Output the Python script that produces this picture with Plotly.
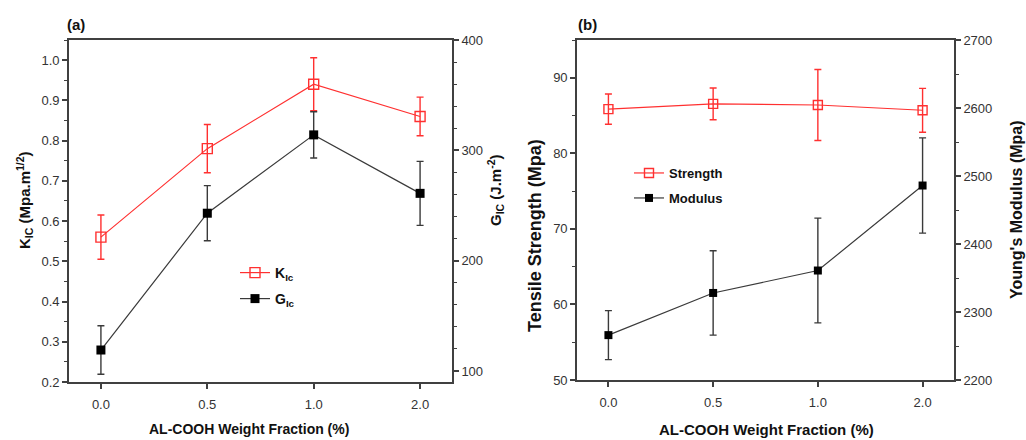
import plotly.graph_objects as go

# ---------------- data ----------------
x_labels = ["0.0", "0.5", "1.0", "2.0"]
x_pos = [0, 1, 2, 3]

kic = [0.56, 0.78, 0.94, 0.86]
kic_err = [0.055, 0.06, 0.066, 0.048]
gic = [119, 243, 314, 261]
gic_err = [22, 25, 21, 29]

strength = [85.85, 86.55, 86.4, 85.7]
strength_err = [2.0, 2.1, 4.7, 2.9]
modulus = [2266, 2328, 2361, 2486]
modulus_err = [36, 62, 77, 70]

# ---------------- style ----------------
W, H = 1026, 440
RED = "#ff3030"
BLK = "#000000"
BLK_LINE = "#3a3a3a"
AX = "#404040"
TXT = "#333333"
FONT = "Liberation Sans, Arial, sans-serif"


def px(x):
    return x / W


def py(y):
    return 1 - y / H


fig = go.Figure()

fig.add_trace(go.Scatter(
    x=x_pos, y=kic, mode="lines+markers", name="<b>K<sub>Ic</sub></b>",
    error_y=dict(type="data", array=kic_err, color=RED, thickness=1.4, width=3.5),
    line=dict(color=RED, width=1.2),
    marker=dict(symbol="square-open", size=10, color=RED, line=dict(width=1.4, color=RED)),
    xaxis="x", yaxis="y", legend="legend"))

fig.add_trace(go.Scatter(
    x=x_pos, y=gic, mode="lines+markers", name="<b>G<sub>Ic</sub></b>",
    error_y=dict(type="data", array=gic_err, color=BLK_LINE, thickness=1.4, width=3.5),
    line=dict(color=BLK_LINE, width=1.2),
    marker=dict(symbol="square", size=9, color=BLK, line=dict(width=0)),
    xaxis="x", yaxis="y2", legend="legend2"))

fig.add_trace(go.Scatter(
    x=x_pos, y=strength, mode="lines+markers", name="<b>Strength</b>",
    error_y=dict(type="data", array=strength_err, color=RED, thickness=1.4, width=3.5),
    line=dict(color=RED, width=1.2),
    marker=dict(symbol="square-open", size=9, color=RED, line=dict(width=1.4, color=RED)),
    xaxis="x2", yaxis="y3", legend="legend3"))

fig.add_trace(go.Scatter(
    x=x_pos, y=modulus, mode="lines+markers", name="<b>Modulus</b>",
    error_y=dict(type="data", array=modulus_err, color=BLK_LINE, thickness=1.4, width=3.5),
    line=dict(color=BLK_LINE, width=1.2),
    marker=dict(symbol="square", size=8, color=BLK, line=dict(width=0)),
    xaxis="x2", yaxis="y4", legend="legend4"))

tickfont = dict(family=FONT, size=13, color=TXT)
common_axis = dict(showline=True, linecolor=AX, linewidth=1.6, ticks="outside",
                   ticklen=5, tickwidth=1.5, tickcolor=AX, showgrid=False,
                   zeroline=False, tickfont=tickfont, automargin=False)

yd_a = [py(382), py(40)]
yd_b = [py(380), py(40)]

fig.update_layout(
    width=W, height=H,
    margin=dict(l=0, r=0, t=0, b=0),
    paper_bgcolor="white", plot_bgcolor="white",
    xaxis=dict(domain=[px(69), px(452)], range=[-0.3, 3.3], tickvals=x_pos,
               ticktext=x_labels, anchor="y", mirror=True, ticklabelstandoff=5,
               **common_axis),
    yaxis=dict(domain=yd_a, range=[0.2, 1.05], tick0=0.2, dtick=0.1, tickformat=".1f",
               anchor="x",
               minor=dict(ticks="outside", ticklen=3, dtick=0.05, tickcolor=AX, tickwidth=1.3),
               **common_axis),
    yaxis2=dict(domain=yd_a, range=[90, 400], tick0=100, dtick=100, anchor="x",
                overlaying="y", side="right",
                minor=dict(ticks="outside", ticklen=3, dtick=20, tickcolor=AX, tickwidth=1.3),
                **common_axis),
    xaxis2=dict(domain=[px(577), px(954)], range=[-0.3, 3.3], tickvals=x_pos,
                ticktext=x_labels, anchor="y3", mirror=True, ticklabelstandoff=5,
                **common_axis),
    yaxis3=dict(domain=yd_b, range=[50, 95], tick0=50, dtick=10, anchor="x2",
                minor=dict(ticks="outside", ticklen=3, dtick=5, tickcolor=AX, tickwidth=1.3),
                **common_axis),
    yaxis4=dict(domain=yd_b, range=[2200, 2700], tick0=2200, dtick=100, anchor="x2",
                overlaying="y3", side="right",
                minor=dict(ticks="outside", ticklen=3, dtick=50, tickcolor=AX, tickwidth=1.3),
                **common_axis),
    showlegend=True,
)

leg_common = dict(xanchor="left", yanchor="middle", bgcolor="rgba(0,0,0,0)", borderwidth=0)
leg_font_a = dict(family=FONT, size=14, color="#111111")
leg_font_b = dict(family=FONT, size=13, color="#111111")
fig.update_layout(
    legend=dict(x=px(235), y=py(273), font=leg_font_a, **leg_common),
    legend2=dict(x=px(235), y=py(299), font=leg_font_a, **leg_common),
    legend3=dict(x=px(629), y=py(173), font=leg_font_b, **leg_common),
    legend4=dict(x=px(629), y=py(198), font=leg_font_b, **leg_common),
)

ann = []


def add_text(text, x, y, size, angle=0):
    ann.append(dict(text=text, x=px(x), y=py(y), xref="paper", yref="paper",
                    showarrow=False, textangle=angle, xanchor="center", yanchor="middle",
                    font=dict(family=FONT, size=size, color="#111111")))


add_text("<b>(a)</b>", 76, 25, 15)
add_text("<b>(b)</b>", 587, 24, 15)
add_text("<b>AL-COOH Weight Fraction (%)</b>", 249, 429, 14)
add_text("<b>AL-COOH Weight Fraction (%)</b>", 766, 429, 15)
add_text("<b>K<sub>IC</sub> (Mpa.m<sup>1/2</sup>)</b>", 24, 200, 15, -90)
add_text("<b>G<sub>IC</sub> (J.m<sup>-2</sup>)</b>", 495, 190, 15, -90)
add_text("<b>Tensile Strength (Mpa)</b>", 535, 236, 18, -90)
add_text("<b>Young's Modulus (Mpa)</b>", 1016, 210, 16, -90)

fig.update_layout(annotations=ann)

fig.write_html("out.html")
